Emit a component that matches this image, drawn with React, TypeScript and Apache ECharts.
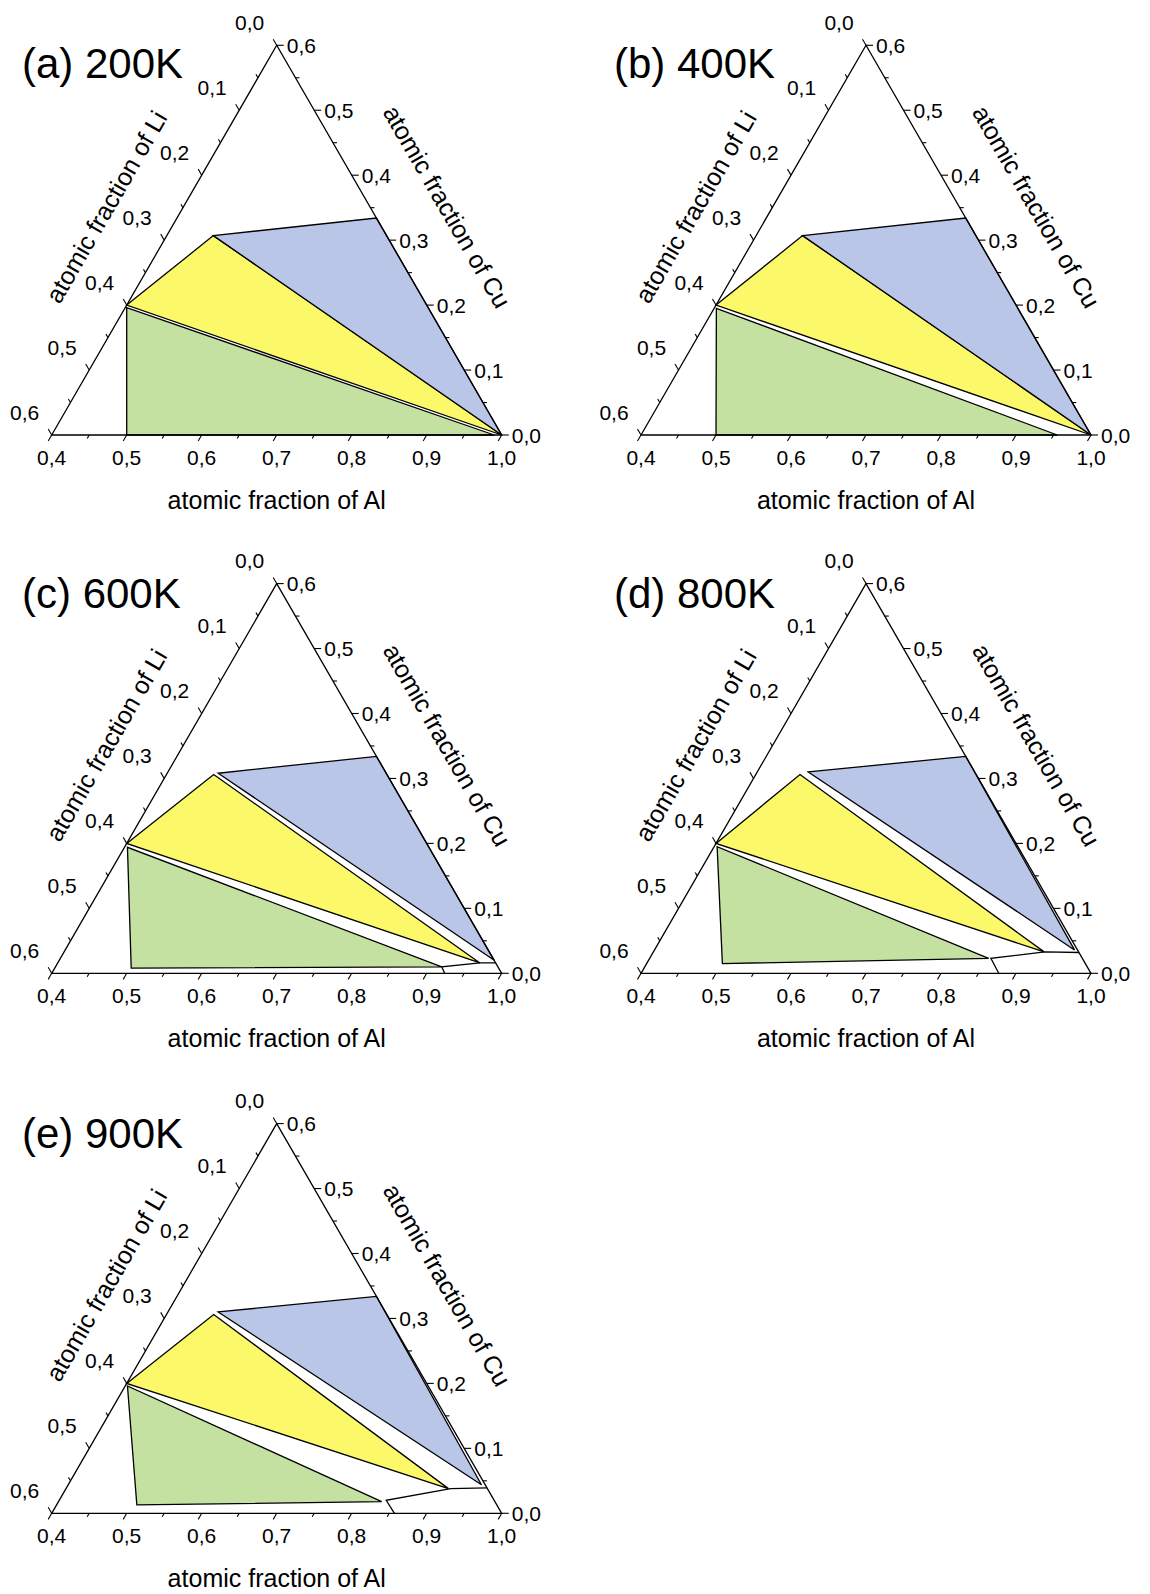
import React, { useEffect, useRef } from "react";
import * as echarts from "echarts";

const SQ = Math.sqrt(3) / 2;
const FONT = "'Liberation Sans', Arial, Helvetica, sans-serif";

// ---- texts ----
const panelTitles = ["(a) 200K", "(b) 400K", "(c) 600K", "(d) 800K", "(e) 900K"];
const alAxisName = "atomic fraction of Al";
const liAxisName = "atomic fraction of Li";
const cuAxisName = "atomic fraction of Cu";

// ---- ticks (fractions) ----
const alTickValues = [0.4, 0.45, 0.5, 0.55, 0.6, 0.65, 0.7, 0.75, 0.8, 0.85, 0.9, 0.95, 1.0];
const liTickValues = [0, 0.05, 0.1, 0.15, 0.2, 0.25, 0.3, 0.35, 0.4, 0.45, 0.5, 0.55, 0.6];
const cuTickValues = [0, 0.05, 0.1, 0.15, 0.2, 0.25, 0.3, 0.35, 0.4, 0.45, 0.5, 0.55, 0.6];

// ---- phase regions, compositions as [Al, Li, Cu] ----
const frameCorners = [[0.4, 0.6, 0], [1.0, 0, 0], [0.4, 0, 0.6]];

// (a) 200K
const blue200 = [[0.462, 0.231, 0.307], [0.666, 0, 0.334], [1.0, 0, 0]];
const yellow200 = [[0.4, 0.4, 0.2], [0.462, 0.231, 0.307], [1.0, 0, 0]];
const green200 = [[0.402, 0.402, 0.196], [0.5, 0.5, 0], [0.99, 0.01, 0]];
const alPhase200: number[][] = [];

// (b) 400K
const blue400 = [[0.462, 0.231, 0.307], [0.666, 0, 0.334], [1.0, 0, 0]];
const yellow400 = [[0.4, 0.4, 0.2], [0.462, 0.231, 0.307], [1.0, 0, 0]];
const green400 = [[0.403, 0.402, 0.195], [0.5, 0.5, 0], [0.955, 0.045, 0]];
const alPhase400: number[][] = [];

// (c) 600K
const blue600 = [[0.468, 0.224, 0.308], [0.666, 0, 0.334], [0.98, 0, 0.02]];
const yellow600 = [[0.4, 0.4, 0.2], [0.463, 0.231, 0.306], [0.963, 0.021, 0.016]];
const green600 = [[0.404, 0.402, 0.194], [0.502, 0.49, 0.008], [0.915, 0.075, 0.01]];
const alPhase600 = [[0.924, 0.076, 0], [0.915, 0.075, 0.01], [0.963, 0.021, 0.016], [0.984, 0, 0.016]];

// (d) 800K
const blue800 = [[0.468, 0.222, 0.31], [0.666, 0, 0.334], [0.96, 0.004, 0.036]];
const yellow800 = [[0.4, 0.4, 0.2], [0.459, 0.235, 0.306], [0.921, 0.046, 0.033]];
const green800 = [[0.404, 0.401, 0.195], [0.501, 0.484, 0.015], [0.852, 0.125, 0.023]];
const alPhase800 = [[0.877, 0.123, 0], [0.855, 0.122, 0.023], [0.922, 0.045, 0.033], [0.968, 0, 0.032]];

// (e) 900K
const blue900 = [[0.467, 0.223, 0.31], [0.666, 0, 0.334], [0.951, 0.005, 0.044]];
const yellow900 = [[0.4, 0.4, 0.2], [0.463, 0.231, 0.306], [0.91, 0.052, 0.038]];
const green900 = [[0.403, 0.401, 0.196], [0.507, 0.48, 0.013], [0.831, 0.151, 0.018]];
const alPhase900 = [[0.857, 0.143, 0], [0.836, 0.144, 0.02], [0.913, 0.049, 0.038], [0.961, 0, 0.039]];

const panels = [
  { blue: blue200, yellow: yellow200, green: green200, al: alPhase200 },
  { blue: blue400, yellow: yellow400, green: green400, al: alPhase400 },
  { blue: blue600, yellow: yellow600, green: green600, al: alPhase600 },
  { blue: blue800, yellow: yellow800, green: green800, al: alPhase800 },
  { blue: blue900, yellow: yellow900, green: green900, al: alPhase900 },
];

// ---- layout (pixels) ----
const SIDE = 450;
const gridLeft = [51.7, 641, 51.7, 641, 51.7];
const gridBottom = [435, 435, 973.3, 973.3, 1513.3];
const titleLeft = [22, 614, 22, 614, 22];
const titleTop = [42, 42, 572, 572, 1112];
const TICK_FS = 21;
const NAME_FS = 25;
const TITLE_FS = 42;

const BLUE = "#B9C6E8";
const YELLOW = "#FBF86A";
const GREEN = "#C4E1A2";

function toXY(p: number[]) {
  const al = p[0];
  const cu = p[2];
  return [al + cu / 2, cu * SQ];
}

function fmt(v: number) {
  return v.toFixed(1).replace(".", ",");
}

function isMajor(t: number) {
  return Math.abs(Math.round(t * 10) - t * 10) < 1e-6;
}

function polygonSeries(i: number, pts: number[][], color: string, z: number) {
  const data = pts.map(toXY);
  return {
    type: "custom",
    coordinateSystem: "cartesian2d",
    xAxisIndex: i,
    yAxisIndex: i,
    silent: true,
    clip: false,
    z,
    data,
    renderItem: (params: any, api: any) => {
      if (params.dataIndex !== 0) return null;
      return {
        type: "polygon",
        shape: { points: data.map((d) => api.coord(d)) },
        style: { fill: color, stroke: "#000", lineWidth: 1.3 },
      };
    },
  };
}

function polylineSeries(i: number, pts: number[][], z: number) {
  const data = pts.map(toXY);
  return {
    type: "custom",
    coordinateSystem: "cartesian2d",
    xAxisIndex: i,
    yAxisIndex: i,
    silent: true,
    clip: false,
    z,
    data,
    renderItem: (params: any, api: any) => {
      if (params.dataIndex !== 0) return null;
      return {
        type: "polyline",
        shape: { points: data.map((d) => api.coord(d)) },
        style: { fill: "none", stroke: "#000", lineWidth: 1.3 },
      };
    },
  };
}

function tickSeries(i: number, kind: "al" | "li" | "cu") {
  const values = kind === "al" ? alTickValues : kind === "li" ? liTickValues : cuTickValues;
  const data = values.map((t) => {
    if (kind === "al") return [...toXY([t, 1 - t, 0]), t];
    if (kind === "li") return [...toXY([0.4, t, 0.6 - t]), t];
    return [...toXY([1 - t, 0, t]), t];
  });
  return {
    type: "custom",
    coordinateSystem: "cartesian2d",
    xAxisIndex: i,
    yAxisIndex: i,
    silent: true,
    clip: false,
    z: 6,
    data,
    renderItem: (params: any, api: any) => {
      const t = api.value(2);
      const p = api.coord([api.value(0), api.value(1)]);
      const major = isMajor(t);
      let dx = 0;
      let dy = 0;
      if (kind === "al") { dx = -0.5; dy = SQ; }
      else if (kind === "li") { dx = -0.5; dy = -SQ; }
      else { dx = 1; dy = 0; }
      const len = major ? 7 : 4;
      const children: any[] = [
        {
          type: "line",
          shape: { x1: p[0], y1: p[1], x2: p[0] + dx * len, y2: p[1] + dy * len },
          style: { stroke: "#000", lineWidth: 1.1 },
        },
      ];
      if (major && kind === "li") {
        children.push({
          type: "text",
          x: p[0] - 27,
          y: p[1] - 23,
          style: { text: fmt(t), fontSize: TICK_FS, fontFamily: FONT, fill: "#000", align: "center", verticalAlign: "middle" },
        });
      }
      if (major && kind === "cu") {
        children.push({
          type: "text",
          x: p[0] + 10,
          y: p[1],
          style: { text: fmt(t), fontSize: TICK_FS, fontFamily: FONT, fill: "#000", align: "left", verticalAlign: "middle" },
        });
      }
      return { type: "group", children };
    },
  };
}

function sideTitleSeries(i: number, side: "li" | "cu") {
  const mid = side === "li" ? toXY([0.4, 0.3, 0.3]) : toXY([0.7, 0, 0.3]);
  return {
    type: "custom",
    coordinateSystem: "cartesian2d",
    xAxisIndex: i,
    yAxisIndex: i,
    silent: true,
    clip: false,
    z: 6,
    data: [mid],
    renderItem: (params: any, api: any) => {
      const p = api.coord([api.value(0), api.value(1)]);
      const d = 67;
      const nx = side === "li" ? -SQ : SQ;
      const ny = -0.5;
      return {
        type: "text",
        x: p[0] + nx * d,
        y: p[1] + ny * d,
        rotation: side === "li" ? Math.PI / 3 : -Math.PI / 3,
        style: {
          text: side === "li" ? liAxisName : cuAxisName,
          fontSize: NAME_FS,
          fontFamily: FONT,
          fill: "#000",
          align: "center",
          verticalAlign: "middle",
        },
      };
    },
  };
}

function buildOption() {
  const grid = panels.map((_, i) => ({
    left: gridLeft[i],
    top: gridBottom[i] - SIDE * SQ,
    width: SIDE,
    height: SIDE * SQ,
  }));
  const xAxis = panels.map((_, i) => ({
    type: "value",
    gridIndex: i,
    min: 0.4,
    max: 1.0,
    interval: 0.1,
    axisLine: { show: false },
    axisTick: { show: false },
    splitLine: { show: false },
    axisLabel: {
      formatter: (v: number) => fmt(v),
      fontSize: TICK_FS,
      fontFamily: FONT,
      color: "#000",
      margin: 12,
    },
    name: alAxisName,
    nameLocation: "middle",
    nameGap: 52,
    nameTextStyle: { fontSize: NAME_FS, fontFamily: FONT, color: "#000" },
  }));
  const yAxis = panels.map((_, i) => ({
    type: "value",
    gridIndex: i,
    min: 0,
    max: 0.6 * SQ,
    show: false,
  }));
  const series: any[] = [];
  panels.forEach((pn, i) => {
    series.push(polygonSeries(i, pn.green, GREEN, 2));
    series.push(polygonSeries(i, pn.yellow, YELLOW, 3));
    series.push(polygonSeries(i, pn.blue, BLUE, 3));
    if (pn.al.length) series.push(polylineSeries(i, pn.al, 4));
    series.push(polygonSeries(i, frameCorners, "none", 5));
    series.push(tickSeries(i, "al"));
    series.push(tickSeries(i, "li"));
    series.push(tickSeries(i, "cu"));
    series.push(sideTitleSeries(i, "li"));
    series.push(sideTitleSeries(i, "cu"));
  });
  const title = panelTitles.map((t, i) => ({
    text: t,
    left: titleLeft[i],
    top: titleTop[i],
    padding: 0,
    textStyle: { fontSize: TITLE_FS, fontWeight: "normal", fontFamily: FONT, color: "#000" },
  }));
  return {
    animation: false,
    backgroundColor: "#fff",
    title,
    grid,
    xAxis,
    yAxis,
    series,
  };
}

export default function App() {
  const ref = useRef<HTMLDivElement>(null);
  useEffect(() => {
    document.body.style.margin = "0";
    if (!ref.current) return;
    const chart = echarts.init(ref.current, undefined, { renderer: "svg" });
    chart.setOption(buildOption() as any);
    return () => chart.dispose();
  }, []);
  return <div ref={ref} style={{ width: 1150, height: 1594 }} />;
}
